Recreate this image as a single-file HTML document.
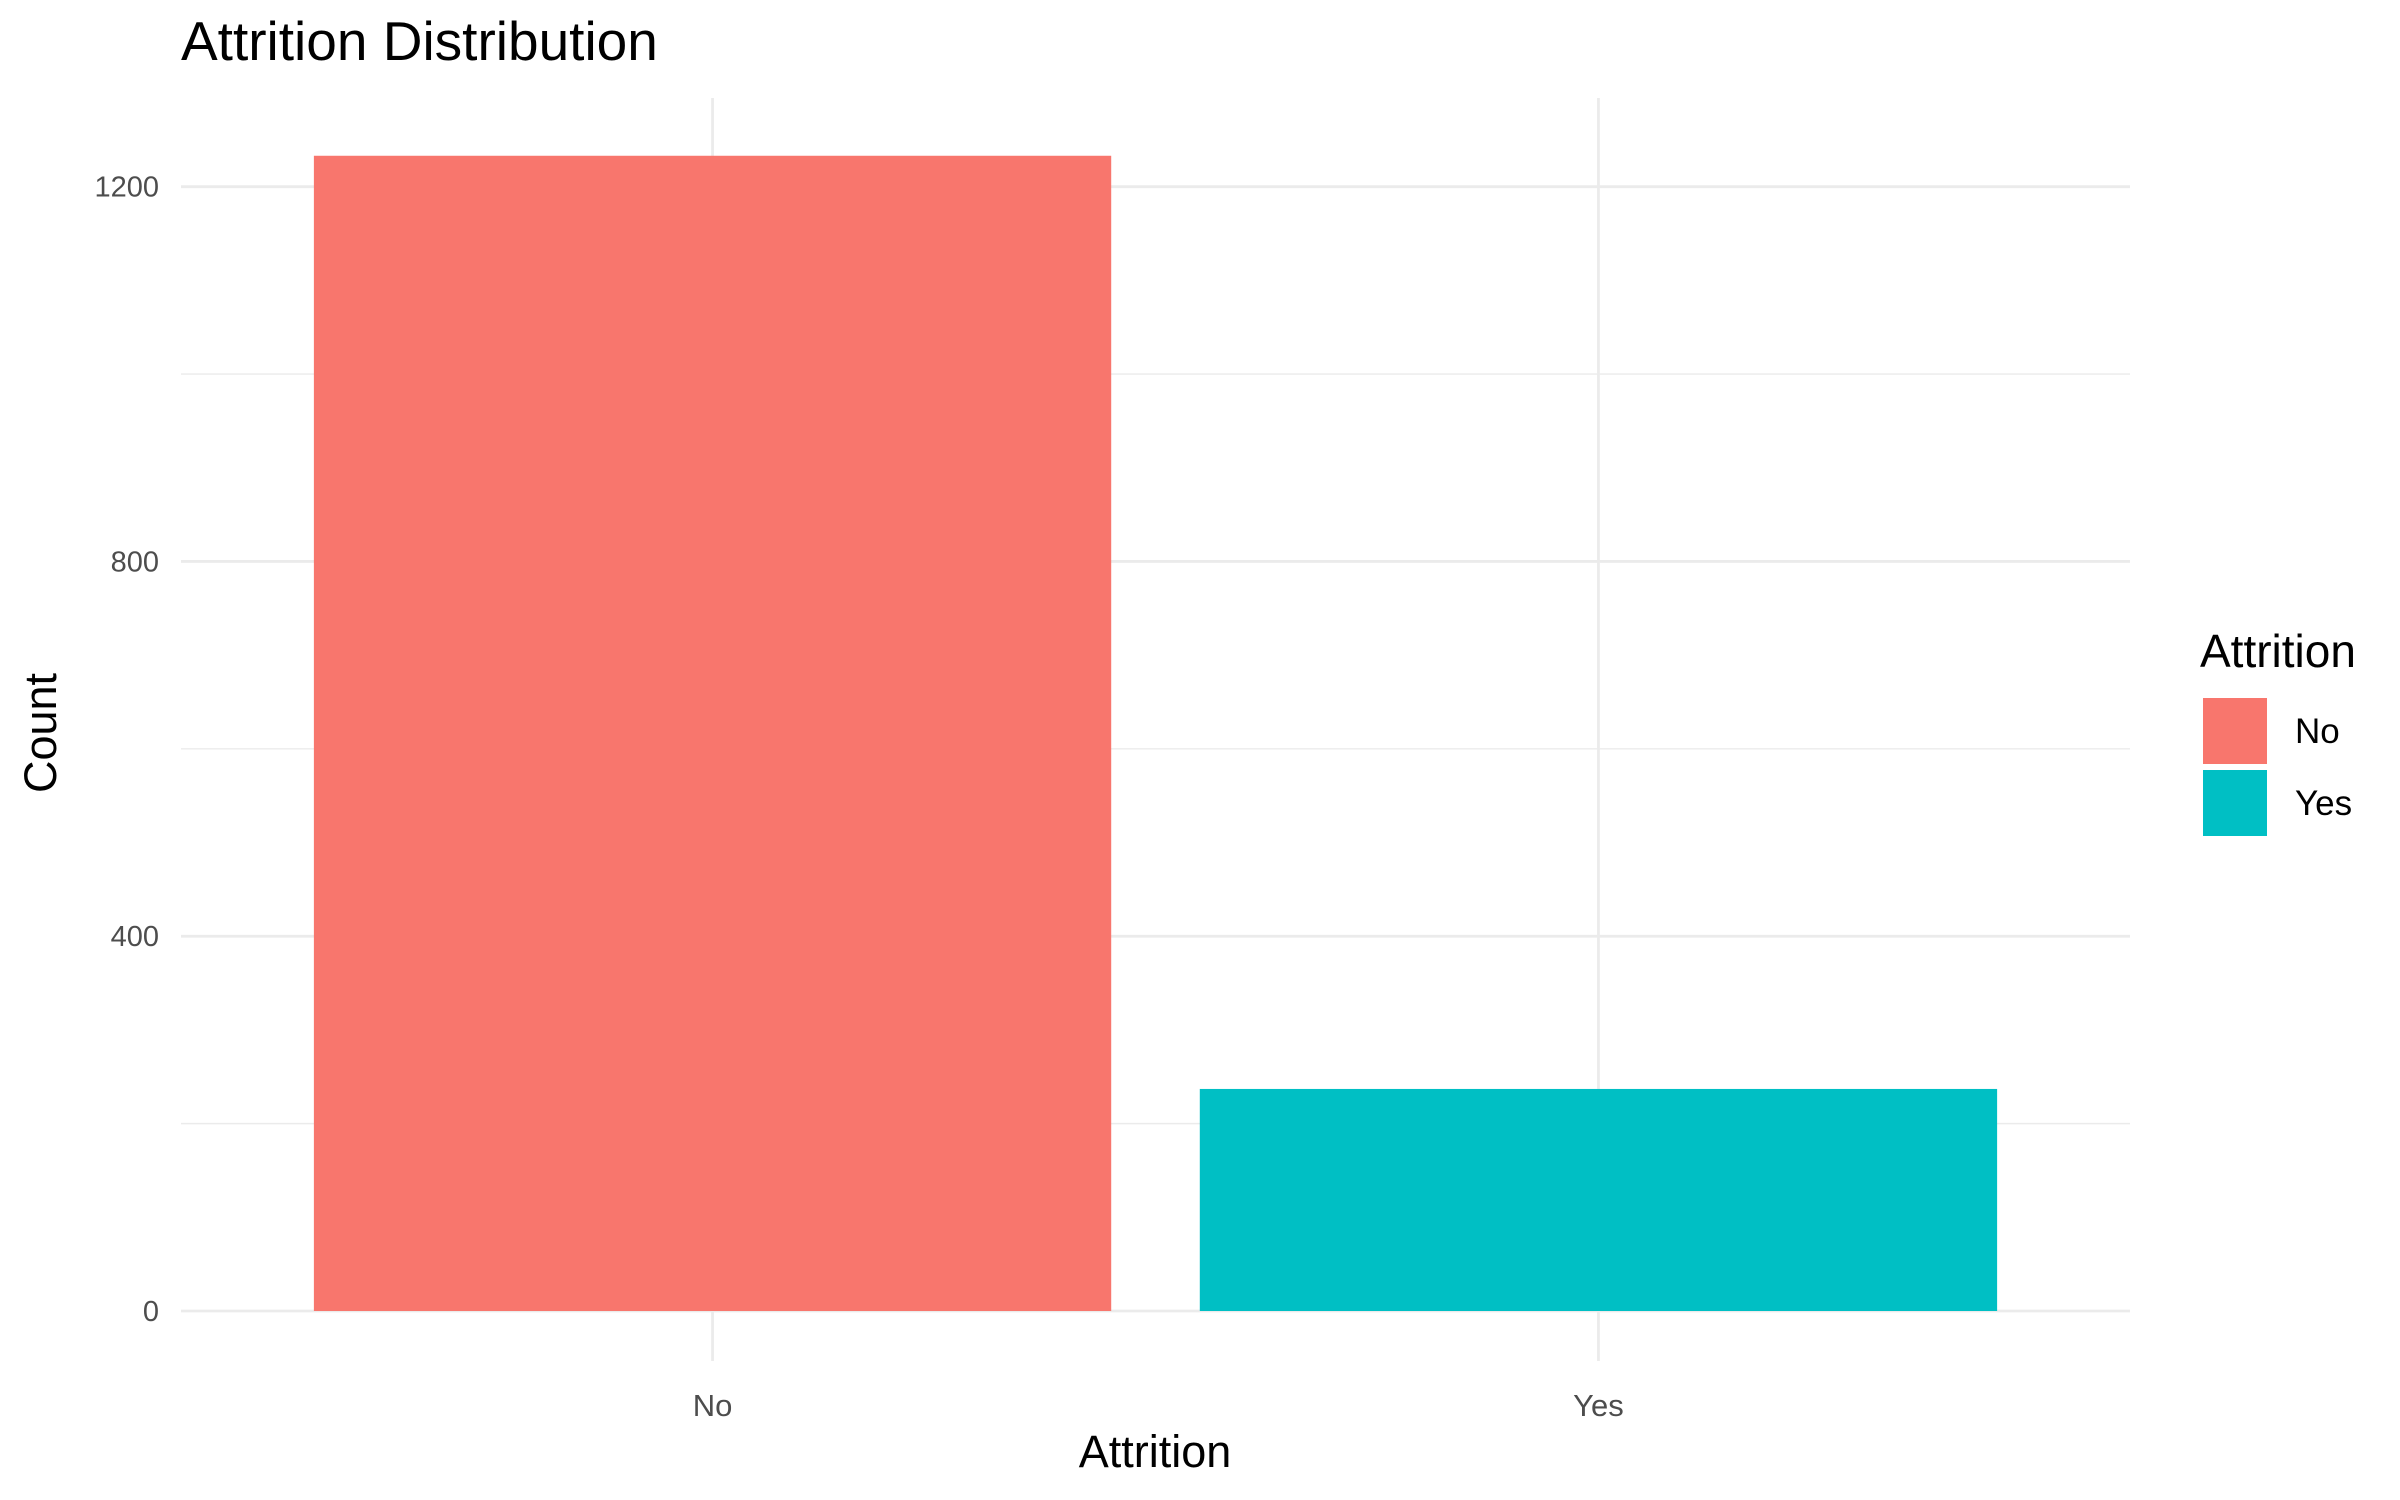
<!DOCTYPE html>
<html><head><meta charset="utf-8"><style>
html,body{margin:0;padding:0;background:#fff;}
svg{display:block;font-family:"Liberation Sans",Arial,sans-serif;}
</style></head><body>
<svg id="chart" width="2400" height="1500" viewBox="0 0 2400 1500">
<text x="181" y="60" font-size="55" fill="#000">Attrition Distribution</text>
<g id="grid"></g>
<g id="bars"></g>
<g id="yticks"></g>
<g id="xticks"></g>
<text x="1155" y="1467" font-size="45" text-anchor="middle" fill="#000">Attrition</text>
<text transform="translate(56,733) rotate(-90)" font-size="45" text-anchor="middle" fill="#000">Count</text>
<g id="legend">
<text x="2200" y="667" font-size="46" fill="#000">Attrition</text>
</g>
</svg>
<script>
const categories = ["No", "Yes"];
const counts = [1233, 237];
const yTicks = [0, 400, 800, 1200];
const yMinor = [200, 600, 1000];
const colors = ["#F8766D", "#00BFC4"];

const NS = "http://www.w3.org/2000/svg";
const panelL = 181, panelR = 2130, panelB = 1311;
const yMax = Math.max(...counts) * 1.05;
const panelT = 98;
function yScale(v){ return panelB - v / yMax * (panelB - panelT); }
const xMin = 0.4, xMax = categories.length + 0.6;
function xScale(i){ return panelL + ((i + 1) - xMin) / (xMax - xMin) * (panelR - panelL); }
const band = (panelR - panelL) / (xMax - xMin);
function mk(tag, attrs, parent){ const e = document.createElementNS(NS, tag); for (const k in attrs) e.setAttribute(k, attrs[k]); parent.appendChild(e); return e; }

const grid = document.getElementById("grid");
yMinor.forEach(v => {
  const l = mk("line", {x1: panelL, x2: panelR, y1: yScale(v), y2: yScale(v), stroke: "#ebebeb", "stroke-width": 1.4}, grid);
  
  
});
yTicks.forEach(v => {
  const l = mk("line", {x1: panelL, x2: panelR, y1: yScale(v), y2: yScale(v), stroke: "#ebebeb", "stroke-width": 2.8}, grid);
  
  
});
categories.forEach((c, i) => {
  const l = mk("line", {x1: xScale(i), x2: xScale(i), y1: panelT, y2: panelB + 50, stroke: "#ebebeb", "stroke-width": 2.8}, grid);
  
  
});

const bars = document.getElementById("bars");
categories.forEach((c, i) => {
  const w = band * 0.9;
  const r = mk("rect", {x: xScale(i) - w / 2, y: yScale(counts[i]), width: w, height: yScale(0) - yScale(counts[i]), fill: colors[i]}, bars);
  
  
});

const yt = document.getElementById("yticks");
yTicks.forEach(v => {
  const t = mk("text", {x: 159, y: yScale(v) + 10, "font-size": 29, "text-anchor": "end", fill: "#4d4d4d"}, yt);
  t.textContent = v;
  
  
});
const xt = document.getElementById("xticks");
categories.forEach((c, i) => {
  const t = mk("text", {x: xScale(i), y: 1416, "font-size": 31, "text-anchor": "middle", fill: "#4d4d4d"}, xt);
  t.textContent = c;
  
  
});

const lg = document.getElementById("legend");
categories.forEach((c, i) => {
  const top = 698 + i * 72;
  const r = mk("rect", {x: 2203, y: top, width: 64, height: 66, fill: colors[i]}, lg);
  
  
  const t = mk("text", {x: 2295, y: top + 45, "font-size": 35, fill: "#000"}, lg);
  t.textContent = c;
  
  
});
</script>
</body></html>
